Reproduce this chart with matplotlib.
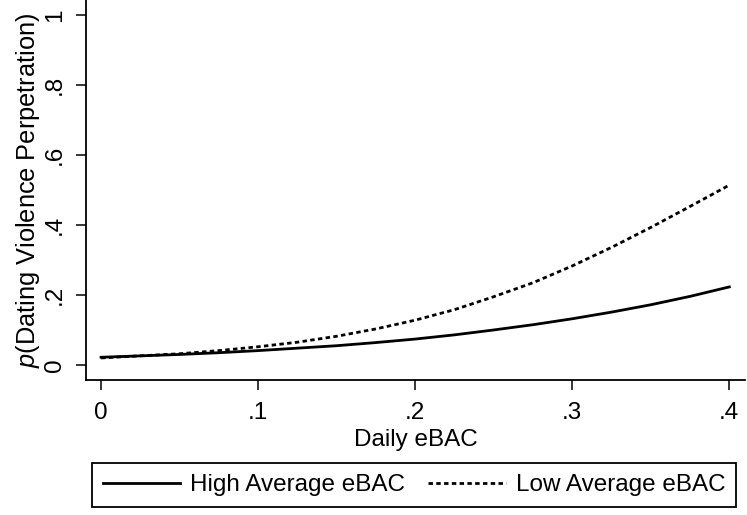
import matplotlib
matplotlib.use("Agg")
import matplotlib.pyplot as plt

plt.rcParams["font.family"] = ["Liberation Sans", "DejaVu Sans"]
plt.rcParams["mathtext.fontset"] = "custom"
plt.rcParams["mathtext.it"] = "Liberation Sans:italic"
plt.rcParams["mathtext.rm"] = "Liberation Sans"

# predicted probabilities
daily_ebac = [0, .025, .05, .075, .1, .125, .15, .175, .2, .225, .25, .275, .3,
              .325, .35, .375, .4]
p_high = [0.022, 0.026, 0.030, 0.035, 0.041, 0.048, 0.055, 0.064, 0.074, 0.086,
          0.100, 0.115, 0.132, 0.151, 0.172, 0.196, 0.223]
p_low = [0.020, 0.026, 0.032, 0.041, 0.052, 0.065, 0.082, 0.103, 0.128, 0.158,
         0.195, 0.235, 0.283, 0.336, 0.393, 0.453, 0.514]

x_ticks = [0, .1, .2, .3, .4]
x_labels = ["0", ".1", ".2", ".3", ".4"]
y_ticks = [0, .2, .4, .6, .8, 1]
y_labels = ["0", ".2", ".4", ".6", ".8", "1"]

FS = 17.5

fig = plt.figure(figsize=(7.47, 5.15), dpi=100)
ax = fig.add_axes([86/747, 1 - 380/515, (745 - 86)/747, 380/515])

ax.plot(daily_ebac, p_high, color="black", lw=2.0, label="High Average eBAC")
ax.plot(daily_ebac, p_low, color="black", lw=2.0, ls=(0, (1.6, 1.2)),
        label="Low Average eBAC")

ax.set_xlim(-0.0096, 0.41)
ax.set_ylim(-0.043, 1.043)
for s in ("top", "right"):
    ax.spines[s].set_visible(False)
for s in ("left", "bottom"):
    ax.spines[s].set_linewidth(1.3)

ax.set_xticks(x_ticks, x_labels, fontsize=FS)
ax.set_yticks(y_ticks, y_labels, fontsize=FS, rotation=90, va="center")
ax.tick_params(direction="out", length=7, width=1.1)
ax.tick_params(axis="x", pad=8.5)
ax.tick_params(axis="y", pad=7.5)
ax.set_xlabel("Daily eBAC", fontsize=FS, labelpad=4)
ax.set_ylabel(r"$p$(Dating Violence Perpetration)", fontsize=18.3, labelpad=1)

leg = fig.legend(loc="center", ncol=2, bbox_to_anchor=(414/747, 1 - 485/515),
                 fontsize=FS, frameon=True, fancybox=False, edgecolor="black",
                 framealpha=1, handlelength=3.2, handletextpad=0.4,
                 borderpad=0.45, borderaxespad=0, columnspacing=0.95)
leg.get_frame().set_linewidth(1.3)

fig.savefig("out.png", dpi=100)
